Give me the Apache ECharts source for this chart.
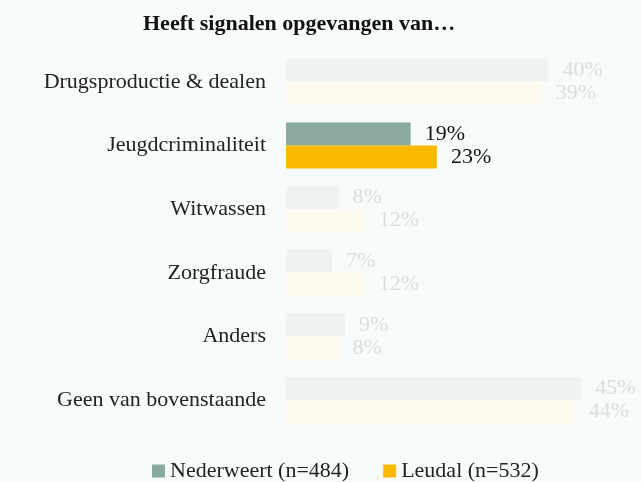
<!DOCTYPE html>
<html>
<head>
<meta charset="utf-8">
<style>
  html, body { margin: 0; padding: 0; background: #f7fbfc; }
  #chart { width: 641px; height: 482px; }
</style>
<script src="https://cdn.jsdelivr.net/npm/echarts@6/dist/echarts.min.js"></script>
</head>
<body>
<div id="chart"></div>
<script>
var categories = ['Drugsproductie & dealen', 'Jeugdcriminaliteit', 'Witwassen', 'Zorgfraude', 'Anders', 'Geen van bovenstaande'];
var nederweert = [40, 19, 8, 7, 9, 45];
var leudal = [39, 23, 12, 12, 8, 44];
var seriesNames = ['Nederweert (n=484)', 'Leudal (n=532)'];
var highlight = 1; // Jeugdcriminaliteit

var serif = '"Liberation Serif", "DejaVu Serif", serif';

// kleuren: vol voor highlight, vaag voor de rest
function buildData(values, full, faded) {
    return values.map(function (v, i) {
        var on = i === highlight;
        return {
            value: v,
            itemStyle: { color: on ? full : faded },
            label: { color: on ? '#111111' : '#dcdcdc' }
        };
    });
}

var chart = echarts.init(document.getElementById('chart'));
chart.setOption({
    backgroundColor: '#f7fbfc',
    title: {
        text: 'Heeft signalen opgevangen van…',
        left: 138,
        top: 8,
        textStyle: { fontFamily: serif, fontSize: 22, fontWeight: 'bold', color: '#111' }
    },
    legend: {
        top: 455,
        left: 147,
        itemWidth: 13,
        itemHeight: 13,
        itemGap: 34,
        icon: 'rect',
        textStyle: { fontFamily: serif, fontSize: 22, color: '#222' },
        data: [
            { name: seriesNames[0], itemStyle: { color: '#8aaa9e' } },
            { name: seriesNames[1], itemStyle: { color: '#fbb900' } }
        ]
    },
    grid: { left: 286, right: 27, top: 50, bottom: 50, containLabel: false },
    xAxis: {
        type: 'value',
        min: 0,
        max: 50,
        show: false
    },
    yAxis: {
        type: 'category',
        data: categories,
        inverse: true,
        axisLine: { show: false },
        axisTick: { show: false },
        axisLabel: { margin: 20, fontFamily: serif, fontSize: 22, color: '#222' }
    },
    series: [
        {
            name: seriesNames[0],
            type: 'bar',
            barWidth: 23,
            barGap: '0%',
            color: '#8aaa9e',
            data: buildData(nederweert, '#8aaa9e', '#eef2f1'),
            label: { show: true, position: 'right', distance: 14, fontFamily: serif, fontSize: 22, formatter: '{c}%' }
        },
        {
            name: seriesNames[1],
            type: 'bar',
            barWidth: 23,
            barGap: '0%',
            color: '#fbb900',
            data: buildData(leudal, '#fbb900', '#fffaee'),
            label: { show: true, position: 'right', distance: 14, fontFamily: serif, fontSize: 22, formatter: '{c}%' }
        }
    ]
});
</script>
</body>
</html>
